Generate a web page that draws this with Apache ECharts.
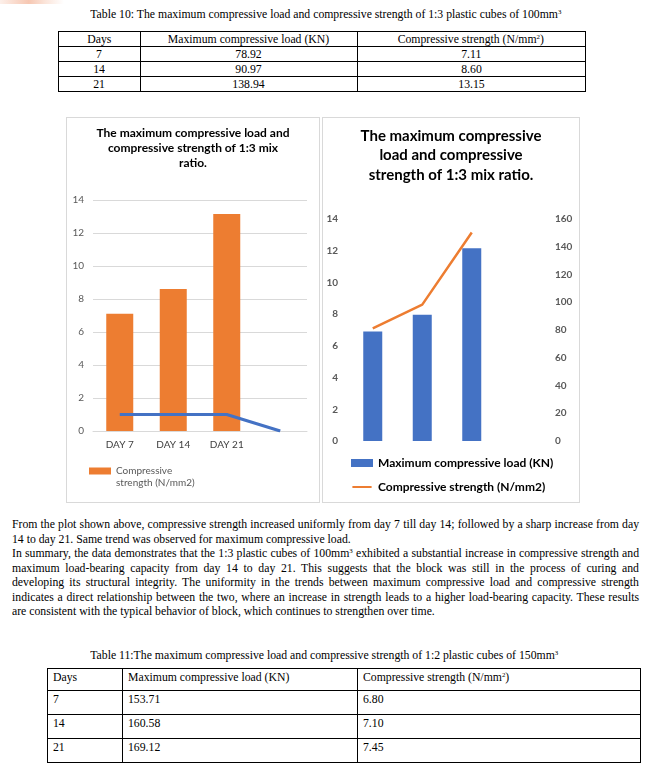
<!DOCTYPE html>
<html><head><meta charset="utf-8">
<script src="https://cdn.jsdelivr.net/npm/echarts@6/dist/echarts.min.js"></script>
<style>
html,body{margin:0;padding:0;background:#fff;}
#page{position:relative;width:652px;height:769px;overflow:hidden;font-family:"Liberation Serif","Times New Roman",serif;color:#000;}
.tx{position:absolute;white-space:nowrap;font-size:12px;line-height:14px;height:14px;}
.tx span{display:inline-block;white-space:nowrap;}
.sup{font-size:7px;position:relative;top:-4px;}
.ln{position:absolute;background:#000;}
.box{position:absolute;border:1px solid #d9d9d9;}
#mark{position:absolute;left:0;top:0;width:64px;height:4px;background:linear-gradient(90deg,#fdf0ea 0%,#f6c7b2 45%,#fbe4d9 70%,#fff 100%);}
</style></head>
<body><div id="page"><div id="mark"></div>
<div id="c1" class="box" style="left:66px;top:117px;width:252px;height:384px;"></div>
<div id="c2" class="box" style="left:322px;top:117px;width:256px;height:384px;"></div>
</div>
<script>
// ---------- data ----------
const tableDays = ['7', '14', '21'];
const load13 = [78.92, 90.97, 138.94];
const strength13 = [7.11, 8.60, 13.15];
const load12 = [153.71, 160.58, 169.12];
const strength12 = [6.80, 7.10, 7.45];
const chartCats = ['DAY 7', 'DAY 14', 'DAY 21', ''];
const blueLine = [1, 1, 1, 0];
const strengthAxis = {min: 0, max: 14, step: 2};
const loadAxis = {min: 0, max: 160, step: 20};
const tableHeaders = ['Days', 'Maximum compressive load (KN)', 'Compressive strength (N/mm<span class="sup">2</span>)'];
const title10 = 'Table 10: The maximum compressive load and compressive strength of 1:3 plastic cubes of 100mm<span class="sup">3</span>';
const title11 = 'Table 11:The maximum compressive load and compressive strength of 1:2 plastic cubes of 150mm<span class="sup">3</span>';
const paraLines = [
  ['From the plot shown above, compressive strength increased uniformly from day 7 till day 14; followed by a sharp increase from day', true],
  ['14 to day 21. Same trend was observed for maximum compressive load.', false],
  ['In summary, the data demonstrates that the 1:3 plastic cubes of 100mm<span class="sup">3</span> exhibited a substantial increase in compressive strength and', true],
  ['maximum load-bearing capacity from day 14 to day 21. This suggests that the block was still in the process of curing and', true],
  ['developing its structural integrity. The uniformity in the trends between maximum compressive load and compressive strength', true],
  ['indicates a direct relationship between the two, where an increase in strength leads to a higher load-bearing capacity. These results', true],
  ['are consistent with the typical behavior of block, which continues to strengthen over time.', false]
];
const legendStrength = 'Compressive strength (N/mm2)';
const legendLoad = 'Maximum compressive load (KN)';

// ---------- page text ----------
const page = document.getElementById('page');
function measure(html) {
  const d = document.createElement('div'); d.className = 'tx'; d.style.left = '0'; d.style.top = '-100px';
  const s = document.createElement('span'); s.innerHTML = html; d.appendChild(s); page.appendChild(d);
  const w = s.getBoundingClientRect().width; page.removeChild(d); return w;
}
const SC = 468 / measure(title11);
function text(html, x, cy, align, justW) {
  const d = document.createElement('div'); d.className = 'tx';
  const s = document.createElement('span'); s.innerHTML = html; d.appendChild(s); page.appendChild(d);
  d.style.top = (cy - 7) + 'px';
  const w = s.getBoundingClientRect().width;
  s.style.transform = 'scaleX(' + SC + ')';
  if (align === 'center') { d.style.left = (x - w / 2) + 'px'; s.style.transformOrigin = '50% 50%'; }
  else { d.style.left = x + 'px'; s.style.transformOrigin = '0 50%'; }
  if (justW) {
    const n = s.textContent.split(' ').length - 1;
    s.style.wordSpacing = ((justW / SC - w) / n) + 'px';
  }
}
function line(x, y, w, h) {
  const d = document.createElement('div'); d.className = 'ln';
  d.style.left = x + 'px'; d.style.top = y + 'px'; d.style.width = w + 'px'; d.style.height = h + 'px';
  page.appendChild(d);
}
function table(colX, rowY, rows, centered, padX, padY) {
  rowY.forEach(y => line(colX[0], y, colX[colX.length - 1] - colX[0] + 1, 1));
  colX.forEach(x => line(x, rowY[0], 1, rowY[rowY.length - 1] - rowY[0] + 1));
  rows.forEach((r, ri) => r.forEach((c, ci) => {
    if (centered) text(c, (colX[ci] + colX[ci + 1]) / 2, (rowY[ri] + rowY[ri + 1]) / 2 + 0.5, 'center');
    else text(c, colX[ci] + padX, rowY[ri] + padY, 'left');
  }));
}
function rowsOf(loads, strengths) {
  return [tableHeaders].concat(tableDays.map((d, i) => [d, loads[i].toFixed(2), strengths[i].toFixed(2)]));
}
text(title10, 326, 14, 'center');
table([58, 140, 357, 585], [31, 46, 61, 76, 91], rowsOf(load13, strength13), true);
const paraY = [524, 539, 553, 568, 582, 597, 611];
paraLines.forEach((p, i) => text(p[0], 12, paraY[i], 'left', p[1] ? 627 : 0));
text(title11, 324, 655, 'center');
table([47, 122, 357, 640], [668, 690, 714, 738, 762], rowsOf(load12, strength12), false, 6, 9);

// ---------- charts ----------
const F = 'Lato';
const c1 = echarts.init(document.getElementById('c1'));
c1.setOption({
  animation: false,
  title: {text: 'The maximum compressive load and\ncompressive strength of 1:3 mix\nratio.', left: 'center', top: 3,
    textStyle: {fontFamily: F, fontSize: 12, fontWeight: 'bold', color: '#000', lineHeight: 15}},
  grid: {left: 26, right: 12, top: 82, bottom: 71},
  legend: {data: [legendStrength], left: 22, top: 335, padding: 0, itemWidth: 22, itemHeight: 7, icon: 'rect',
    formatter: () => ' \nCompressive\nstrength (N/mm2)',
    textStyle: {fontFamily: F, fontSize: 10, color: '#595959', lineHeight: 12}},
  xAxis: {type: 'category', data: chartCats, axisTick: {show: false},
    axisLine: {lineStyle: {color: '#d9d9d9'}},
    axisLabel: {fontFamily: F, fontSize: 10, color: '#404040', margin: 9}},
  yAxis: {type: 'value', min: strengthAxis.min, max: strengthAxis.max, interval: strengthAxis.step,
    axisLine: {show: false}, axisTick: {show: false},
    splitLine: {lineStyle: {color: '#d9d9d9'}},
    axisLabel: {fontFamily: F, fontSize: 10, color: '#595959', margin: 9}},
  series: [
    {name: legendStrength, type: 'bar', data: strength13, barWidth: 27, itemStyle: {color: '#ED7D31'}},
    {name: 'Series 2', type: 'line', data: blueLine, symbol: 'none', lineStyle: {color: '#4472C4', width: 3}, itemStyle: {color: '#4472C4'}}
  ]
});
const c2 = echarts.init(document.getElementById('c2'));
c2.setOption({
  animation: false,
  title: {text: 'The maximum compressive\nload and compressive\nstrength of 1:3 mix ratio.', left: 'center', top: 3,
    textStyle: {fontFamily: F, fontSize: 15, fontWeight: 'bold', color: '#000', lineHeight: 19.5}},
  grid: {left: 25, right: 33, top: 101, bottom: 61},
  legend: {orient: 'vertical', left: 28, top: 339, padding: 0, itemWidth: 22, itemHeight: 8, itemGap: 12,
    data: [{name: legendLoad, icon: 'rect'},
           {name: legendStrength, icon: 'path://M0,0h0.01v0.01h-0.01zM0,3.6h24v2.8h-24zM23.99,9.99h0.01v0.01h-0.01z'}],
    textStyle: {fontFamily: F, fontSize: 12, fontWeight: 'bold', color: '#000'}},
  xAxis: {type: 'category', data: chartCats, axisTick: {show: false}, axisLine: {show: false}, axisLabel: {show: false}},
  yAxis: [
    {type: 'value', min: strengthAxis.min, max: strengthAxis.max, interval: strengthAxis.step, splitLine: {show: false},
      axisLine: {show: false}, axisTick: {show: false},
      axisLabel: {fontFamily: F, fontSize: 10, fontWeight: 'bold', color: '#595959', margin: 10}},
    {type: 'value', position: 'right', min: loadAxis.min, max: loadAxis.max, interval: loadAxis.step, splitLine: {show: false},
      axisLine: {show: false}, axisTick: {show: false},
      axisLabel: {fontFamily: F, fontSize: 10, fontWeight: 'bold', color: '#595959', margin: 9}}
  ],
  series: [
    {name: legendLoad, type: 'bar', yAxisIndex: 1, data: load13, barWidth: 19, itemStyle: {color: '#4472C4'}},
    {name: legendStrength, type: 'line', yAxisIndex: 0, data: strength13, symbol: 'none',
      lineStyle: {color: '#ED7D31', width: 2.5}, itemStyle: {color: '#ED7D31'}}
  ]
});
</script></body></html>
